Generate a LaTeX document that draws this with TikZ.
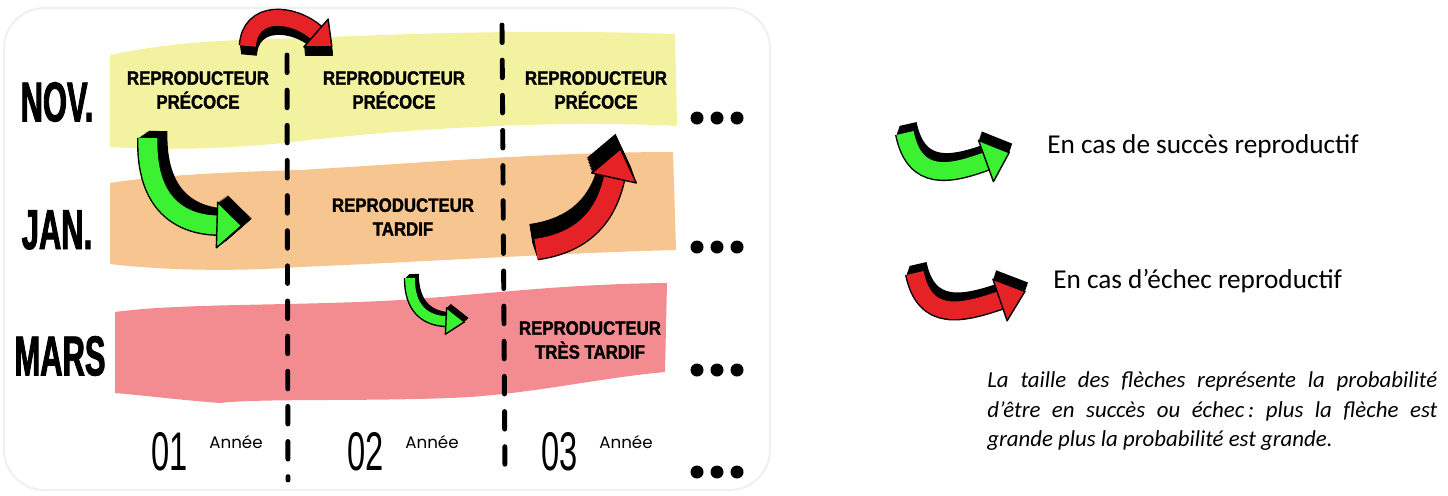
\documentclass[tikz,border=0pt]{standalone}
\usepackage{fontspec}
\usetikzlibrary{calc}
\newfontfamily\bandfont{Liberation Sans}[FakeStretch=0.87, BoldFeatures={FakeBold=1.5}]
\newfontfamily\monthfont{Liberation Sans}[FakeStretch=0.55, BoldFeatures={FakeBold=1.5}]
\newfontfamily\yearfont{Liberation Sans}[FakeStretch=0.6]
\newfontfamily\anneefont{Poppins}
\newfontfamily\legendfont{Carlito}
\frenchspacing
\definecolor{novband}{RGB}{243,242,160}
\definecolor{janband}{RGB}{247,197,143}
\definecolor{marsband}{RGB}{242,140,144}
\definecolor{arrowgreen}{RGB}{60,240,50}
\definecolor{arrowred}{RGB}{229,34,38}
% colour, start, control 1, control 2, end, body width, half head, head length, shadow shift
\newcommand{\fatarrow}[9]{%
  \foreach \s in {0.1,0.2,...,1.0}{%
    \begin{scope}[shift={($(0,0)!\s!#9$)}]
      \draw [line width=#6, black] #2 .. controls #3 and #4 .. #5;
      \fill [black] ($#5!#7!90:#4$) -- ($#5!-#8!#4$) -- ($#5!#7!-90:#4$) -- cycle;
    \end{scope}
  }
  \draw [line width=0.8pt, double=#1, double distance=#6] #2 .. controls #3 and #4 .. #5;
  \filldraw [fill=#1, line width=0.8pt, line join=round] ($#5!#7!90:#4$) -- ($#5!-#8!#4$) -- ($#5!#7!-90:#4$) -- cycle;
}
\begin{document}
\begin{tikzpicture}[x=0.02cm, y=-0.02cm,
    month/.style={font=\monthfont\bfseries\fontsize{32}{32}\selectfont, inner sep=0},
    band/.style={font=\bandfont\bfseries\fontsize{11}{13.6}\selectfont, align=center, inner sep=0},
    year/.style={font=\yearfont\fontsize{31}{31}\selectfont, inner sep=0},
    annee/.style={font=\anneefont\fontsize{9.5}{11}\selectfont, inner sep=0},
    legend/.style={font=\legendfont\fontsize{15.5}{18}\selectfont, inner sep=0},
    dashline/.style={line width=2.8pt, dash pattern=on 10pt off 10pt, line cap=round}]
    \useasboundingbox (0,0) rectangle (1448,495);
    \draw [gray!12, line width=1.2pt, rounded corners=23pt] (4,8) rectangle (770,490);
    % bands
    \fill [novband] (110,55) .. controls (190,38) and (260,40) .. (330,37) .. controls (450,32) and (560,30) .. (675,34) -- (677,126) .. controls (560,120) and (420,128) .. (310,140) .. controls (230,150) and (160,150) .. (110,147) -- cycle;
    \fill [janband] (110,183) .. controls (160,175) and (230,172) .. (300,170) .. controls (420,163) and (550,152) .. (673,152) -- (676,250) .. controls (560,253) and (420,262) .. (300,267) .. controls (230,272) and (160,270) .. (110,264) -- cycle;
    \fill [marsband] (115,312) .. controls (180,303) and (300,306) .. (400,300) .. controls (480,295) and (560,284) .. (667,283) -- (665,372) .. controls (600,378) and (540,392) .. (470,397) .. controls (380,402) and (260,398) .. (220,403) .. controls (180,400) and (140,395) .. (115,393) -- cycle;
    \draw [dashline] (287,55) -- (288,480);
    \draw [dashline] (502,25) -- (505,478);
    % arrows
    \fatarrow{arrowred}{(248,46)}{(250,10)}{(292,12)}{(316,33)}{9pt}{10.5pt}{12pt}{(1,9)}
    \fatarrow{arrowgreen}{(148,138)}{(146,205)}{(182,224)}{(217,225)}{10.8pt}{13pt}{14pt}{(10,-7)}
    \fatarrow{arrowred}{(536,249)}{(585,242)}{(606,214)}{(614,178)}{11.5pt}{13pt}{17pt}{(-5,-15)}
    \fatarrow{arrowgreen}{(410,278)}{(410,308)}{(425,320)}{(446,321)}{5.5pt}{7.5pt}{10.5pt}{(4,-4)}
    \fatarrow{arrowgreen}{(905,133)}{(915,182)}{(950,174)}{(986,161)}{10pt}{12.5pt}{14pt}{(3,-9)}
    \fatarrow{arrowred}{(915,273)}{(925,322)}{(962,313)}{(1000,300)}{10pt}{12.5pt}{15pt}{(3,-9)}
    % labels
    \node [month] (nov) at (57,102) {NOV.};
    \node [month] (jan) at (57,230) {JAN.};
    \node [month] (mars) at (60,356) {MARS};
    \node [band] (early1) at (198,90) {REPRODUCTEUR\\PRÉCOCE};
    \node [band] (early2) at (394,90) {REPRODUCTEUR\\PRÉCOCE};
    \node [band] (early3) at (596,90) {REPRODUCTEUR\\PRÉCOCE};
    \node [band] (late2) at (403,217) {REPRODUCTEUR\\TARDIF};
    \node [band] (vlate3) at (590,340) {REPRODUCTEUR\\TRÈS TARDIF};
    \node [year] (y1) at (170,452) {01};
    \node [annee] (a1) at (236,442) {Année};
    \node [year] (y2) at (366,452) {02};
    \node [annee] (a2) at (432,442) {Année};
    \node [year] (y3) at (560,452) {03};
    \node [annee] (a3) at (626,442) {Année};
    \foreach \row in {118,247,370,472}
        \foreach \col in {697,717,737}
            \fill (\col,\row) circle [radius=3.7pt];
    % legend
    \node [legend, anchor=base west] (succes) at (1047,153) {En cas de succès reproductif};
    \node [legend, anchor=base west] (echec) at (1053,288) {En cas d’échec reproductif};
    \node [legend, font=\legendfont\itshape\fontsize{13}{17}\selectfont, text width=9cm, align=justify, anchor=north west] (taille) at (987,371)
        {La taille des flèches représente la probabilité\linebreak d’être en succès ou échec\,: plus la flèche est\linebreak grande plus la probabilité est grande.};
\end{tikzpicture}
\end{document}
